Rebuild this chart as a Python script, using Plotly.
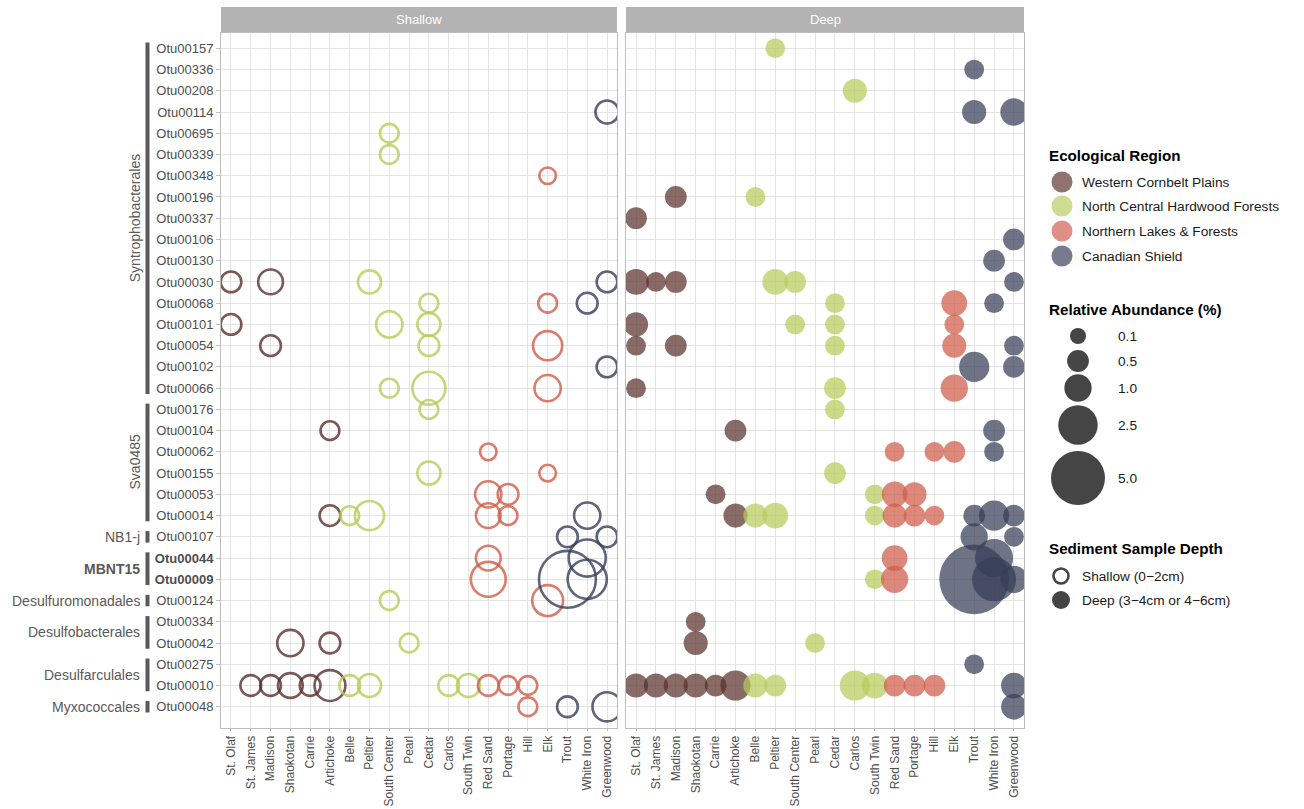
import math
import plotly.graph_objects as go

# ---------------- data ----------------
lakes = ["St. Olaf", "St. James", "Madison", "Shaokotan", "Carrie", "Artichoke",
         "Belle", "Peltier", "South Center", "Pearl", "Cedar", "Carlos", "South Twin",
         "Red Sand", "Portage", "Hill", "Elk", "Trout", "White Iron", "Greenwood"]

lake_region = ["Western Cornbelt Plains", "Western Cornbelt Plains", "Western Cornbelt Plains",
               "Western Cornbelt Plains", "Western Cornbelt Plains", "Western Cornbelt Plains",
               "North Central Hardwood Forests", "North Central Hardwood Forests",
               "North Central Hardwood Forests", "North Central Hardwood Forests",
               "North Central Hardwood Forests", "North Central Hardwood Forests",
               "North Central Hardwood Forests",
               "Northern Lakes & Forests", "Northern Lakes & Forests",
               "Northern Lakes & Forests", "Northern Lakes & Forests",
               "Canadian Shield", "Canadian Shield", "Canadian Shield"]

regions = ["Western Cornbelt Plains", "North Central Hardwood Forests",
           "Northern Lakes & Forests", "Canadian Shield"]

otus = ["Otu00157", "Otu00336", "Otu00208", "Otu00114", "Otu00695", "Otu00339", "Otu00348",
        "Otu00196", "Otu00337", "Otu00106", "Otu00130", "Otu00030", "Otu00068", "Otu00101",
        "Otu00054", "Otu00102", "Otu00066", "Otu00176", "Otu00104", "Otu00062", "Otu00155",
        "Otu00053", "Otu00014", "Otu00107", "Otu00044", "Otu00009", "Otu00124", "Otu00334",
        "Otu00042", "Otu00275", "Otu00010", "Otu00048"]
bold_otus = ["Otu00044", "Otu00009"]

# order groups: (label, first otu, last otu, rotated, bold)
orders = [("Syntrophobacterales", "Otu00157", "Otu00066", True, False),
          ("Sva0485", "Otu00176", "Otu00014", True, False),
          ("NB1-j", "Otu00107", "Otu00107", False, False),
          ("MBNT15", "Otu00044", "Otu00009", False, True),
          ("Desulfuromonadales", "Otu00124", "Otu00124", False, False),
          ("Desulfobacterales", "Otu00334", "Otu00042", False, False),
          ("Desulfarculales", "Otu00275", "Otu00010", False, False),
          ("Myxococcales", "Otu00048", "Otu00048", False, False)]

# relative abundance (%) in shallow (0-2cm) samples: (otu, lake, value)
shallow = [
    ("Otu00114", "Greenwood", 0.7),
    ("Otu00695", "South Center", 0.35),
    ("Otu00339", "South Center", 0.35),
    ("Otu00348", "Elk", 0.2),
    ("Otu00030", "St. Olaf", 0.5), ("Otu00030", "Madison", 0.85),
    ("Otu00030", "Peltier", 0.7), ("Otu00030", "Greenwood", 0.5),
    ("Otu00068", "Cedar", 0.35), ("Otu00068", "Elk", 0.35), ("Otu00068", "White Iron", 0.5),
    ("Otu00101", "St. Olaf", 0.5), ("Otu00101", "South Center", 1.0), ("Otu00101", "Cedar", 0.7),
    ("Otu00054", "Madison", 0.5), ("Otu00054", "Cedar", 0.5), ("Otu00054", "Elk", 1.3),
    ("Otu00102", "Greenwood", 0.5),
    ("Otu00066", "South Center", 0.35), ("Otu00066", "Cedar", 1.75), ("Otu00066", "Elk", 1.0),
    ("Otu00176", "Cedar", 0.35),
    ("Otu00104", "Artichoke", 0.35),
    ("Otu00062", "Red Sand", 0.2),
    ("Otu00155", "Cedar", 0.7), ("Otu00155", "Elk", 0.2),
    ("Otu00053", "Red Sand", 1.0), ("Otu00053", "Portage", 0.5),
    ("Otu00014", "Artichoke", 0.5), ("Otu00014", "Belle", 0.35), ("Otu00014", "Peltier", 1.3),
    ("Otu00014", "Red Sand", 0.85), ("Otu00014", "Portage", 0.35), ("Otu00014", "White Iron", 1.0),
    ("Otu00107", "Trout", 0.5), ("Otu00107", "Greenwood", 0.5),
    ("Otu00044", "Red Sand", 0.85), ("Otu00044", "White Iron", 2.3),
    ("Otu00009", "Red Sand", 2.0), ("Otu00009", "Trout", 5.8), ("Otu00009", "White Iron", 2.6),
    ("Otu00124", "South Center", 0.35), ("Otu00124", "Elk", 1.5),
    ("Otu00042", "Shaokotan", 1.0), ("Otu00042", "Artichoke", 0.5), ("Otu00042", "Pearl", 0.35),
    ("Otu00010", "St. James", 0.5), ("Otu00010", "Madison", 0.5), ("Otu00010", "Shaokotan", 0.85),
    ("Otu00010", "Carrie", 0.5), ("Otu00010", "Artichoke", 1.5), ("Otu00010", "Belle", 0.5),
    ("Otu00010", "Peltier", 0.7), ("Otu00010", "Carlos", 0.5), ("Otu00010", "South Twin", 0.7),
    ("Otu00010", "Red Sand", 0.5), ("Otu00010", "Portage", 0.35), ("Otu00010", "Hill", 0.35),
    ("Otu00048", "Hill", 0.35), ("Otu00048", "Trout", 0.5), ("Otu00048", "Greenwood", 1.3),
]

# relative abundance (%) in deep (3-4cm or 4-6cm) samples
deep = [
    ("Otu00157", "Peltier", 0.35),
    ("Otu00336", "Trout", 0.35),
    ("Otu00208", "Carlos", 0.7),
    ("Otu00114", "Trout", 0.7), ("Otu00114", "Greenwood", 1.0),
    ("Otu00196", "Madison", 0.5), ("Otu00196", "Belle", 0.35),
    ("Otu00337", "St. Olaf", 0.5),
    ("Otu00106", "Greenwood", 0.5),
    ("Otu00130", "White Iron", 0.5),
    ("Otu00030", "St. Olaf", 0.85), ("Otu00030", "St. James", 0.35), ("Otu00030", "Madison", 0.5),
    ("Otu00030", "Peltier", 0.85), ("Otu00030", "South Center", 0.5), ("Otu00030", "Greenwood", 0.35),
    ("Otu00068", "Cedar", 0.35), ("Otu00068", "Elk", 0.85), ("Otu00068", "White Iron", 0.35),
    ("Otu00101", "St. Olaf", 0.7), ("Otu00101", "South Center", 0.35), ("Otu00101", "Cedar", 0.35),
    ("Otu00101", "Elk", 0.35),
    ("Otu00054", "St. Olaf", 0.35), ("Otu00054", "Madison", 0.5), ("Otu00054", "Cedar", 0.35),
    ("Otu00054", "Elk", 0.7), ("Otu00054", "Greenwood", 0.35),
    ("Otu00102", "Trout", 1.3), ("Otu00102", "Greenwood", 0.5),
    ("Otu00066", "St. Olaf", 0.35), ("Otu00066", "Cedar", 0.5), ("Otu00066", "Elk", 1.0),
    ("Otu00176", "Cedar", 0.35),
    ("Otu00104", "Artichoke", 0.5), ("Otu00104", "White Iron", 0.5),
    ("Otu00062", "Red Sand", 0.35), ("Otu00062", "Hill", 0.35), ("Otu00062", "Elk", 0.5),
    ("Otu00062", "White Iron", 0.35),
    ("Otu00155", "Cedar", 0.5),
    ("Otu00053", "Carrie", 0.35), ("Otu00053", "South Twin", 0.35), ("Otu00053", "Red Sand", 0.85),
    ("Otu00053", "Portage", 0.7),
    ("Otu00014", "Artichoke", 0.7), ("Otu00014", "Belle", 0.7), ("Otu00014", "Peltier", 0.85),
    ("Otu00014", "South Twin", 0.35), ("Otu00014", "Red Sand", 0.7), ("Otu00014", "Portage", 0.5),
    ("Otu00014", "Hill", 0.35), ("Otu00014", "Trout", 0.5), ("Otu00014", "White Iron", 1.3),
    ("Otu00014", "Greenwood", 0.5),
    ("Otu00107", "Trout", 1.0), ("Otu00107", "Greenwood", 0.35),
    ("Otu00044", "Red Sand", 0.85), ("Otu00044", "White Iron", 2.3),
    ("Otu00009", "South Twin", 0.35), ("Otu00009", "Red Sand", 1.0), ("Otu00009", "Trout", 8.6),
    ("Otu00009", "White Iron", 3.2), ("Otu00009", "Greenwood", 1.0),
    ("Otu00334", "Shaokotan", 0.35),
    ("Otu00042", "Shaokotan", 0.7), ("Otu00042", "Pearl", 0.35),
    ("Otu00275", "Trout", 0.35),
    ("Otu00010", "St. Olaf", 0.7), ("Otu00010", "St. James", 0.7), ("Otu00010", "Madison", 0.7),
    ("Otu00010", "Shaokotan", 0.7), ("Otu00010", "Carrie", 0.5), ("Otu00010", "Artichoke", 1.3),
    ("Otu00010", "Belle", 0.7), ("Otu00010", "Peltier", 0.5), ("Otu00010", "Carlos", 1.3),
    ("Otu00010", "South Twin", 0.85), ("Otu00010", "Red Sand", 0.5), ("Otu00010", "Portage", 0.5),
    ("Otu00010", "Hill", 0.5), ("Otu00010", "Greenwood", 0.85),
    ("Otu00048", "Greenwood", 0.85),
]

size_breaks = [0.1, 0.5, 1.0, 2.5, 5.0]
size_labels = ["0.1", "0.5", "1.0", "2.5", "5.0"]
depth_labels = ["Shallow (0\u22122cm)", "Deep (3\u22124cm or 4\u22126cm)"]

# ---------------- styles ----------------
W, H = 1304, 809
colors = {"Western Cornbelt Plains": "#5a302c",
          "North Central Hardwood Forests": "#b6cc5c",
          "Northern Lakes & Forests": "#cf5c4a",
          "Canadian Shield": "#363d58"}
FONT = "Liberation Sans, Arial, Helvetica, sans-serif"
TXT = "#4d4d4d"
GRID = "#e4e4e4"
BORDER = "#bdbdbd"
LEGTXT = "#1a1a1a"


def dia(v):
    # ggplot-like area scaling: area linear in value between range limits
    return math.sqrt(202 + 543 * v)


def px(x):
    return x / W


def py(y):
    return 1 - y / H


fig = go.Figure()

panels = [("x", "y", shallow, "circle-open"), ("x2", "y2", deep, "circle")]
region_of = dict(zip(lakes, lake_region))
for xa, ya, recs, sym in panels:
    for reg in regions:
        pts = [r for r in recs if region_of[r[1]] == reg]
        if not pts:
            continue
        if sym == "circle-open":
            marker = dict(symbol="circle-open", size=[dia(p[2]) - 1 for p in pts],
                          color=colors[reg], opacity=0.8, line=dict(width=2.6, color=colors[reg]))
        else:
            marker = dict(symbol="circle", size=[dia(p[2]) for p in pts],
                          color=colors[reg], opacity=0.72, line=dict(width=0))
        fig.add_trace(go.Scatter(x=[p[1] for p in pts], y=[p[0] for p in pts],
                                 mode="markers", marker=marker, xaxis=xa, yaxis=ya,
                                 name=reg, showlegend=False,
                                 hovertemplate="%{y} / %{x}<extra></extra>"))

# legend drawn in pixel-space overlay axis
reg_y = [182, 206, 231, 256]
for reg, yy in zip(regions, reg_y):
    fig.add_trace(go.Scatter(x=[1062], y=[yy], mode="markers", xaxis="x3", yaxis="y3",
                             marker=dict(size=21, color=colors[reg], opacity=0.68),
                             showlegend=False, hoverinfo="skip"))
    fig.add_annotation(x=1080, y=yy, xref="x3", yref="y3", text=reg, showarrow=False,
                       xanchor="left", yanchor="middle",
                       font=dict(size=13.7, color=LEGTXT, family=FONT))
size_y = [336, 361, 388, 425, 478]
fig.add_trace(go.Scatter(x=[1078] * len(size_breaks), y=size_y, mode="markers",
                         xaxis="x3", yaxis="y3",
                         marker=dict(size=[dia(v) for v in size_breaks], color="#454545",
                                     opacity=1, line=dict(width=0)),
                         showlegend=False, hoverinfo="skip"))
for lab, yy in zip(size_labels, size_y):
    fig.add_annotation(x=1116, y=yy, xref="x3", yref="y3", text=lab, showarrow=False,
                       xanchor="left", yanchor="middle",
                       font=dict(size=13.7, color=LEGTXT, family=FONT))
fig.add_trace(go.Scatter(x=[1061], y=[576], mode="markers", xaxis="x3", yaxis="y3",
                         marker=dict(symbol="circle-open", size=15, color="#454545", opacity=1,
                                     line=dict(width=2.6, color="#454545")),
                         showlegend=False, hoverinfo="skip"))
fig.add_trace(go.Scatter(x=[1061], y=[600], mode="markers", xaxis="x3", yaxis="y3",
                         marker=dict(symbol="circle", size=18, color="#454545", opacity=1),
                         showlegend=False, hoverinfo="skip"))
for lab, yy in zip(depth_labels, [576, 600]):
    fig.add_annotation(x=1080, y=yy, xref="x3", yref="y3", text=lab, showarrow=False,
                       xanchor="left", yanchor="middle",
                       font=dict(size=13.7, color=LEGTXT, family=FONT))
for title, yy in [("Ecological Region", 155), ("Relative Abundance (%)", 309),
                  ("Sediment Sample Depth", 548)]:
    fig.add_annotation(x=1047, y=yy, xref="x3", yref="y3", text="<b>" + title + "</b>",
                       showarrow=False, xanchor="left", yanchor="middle",
                       font=dict(size=15.2, color="#000000", family=FONT))

# ---------------- axes ----------------
y_dom = [py(728), py(33)]
xs_dom = [px(221), px(617)]
xd_dom = [px(626), px(1024)]
xrange = [-0.505, len(lakes) - 1 + 0.505]
yrange = [len(otus) - 1 + 1.0, -0.72]

common_x = dict(type="category", categoryorder="array", categoryarray=lakes, range=xrange,
                showgrid=True, gridcolor=GRID, gridwidth=1, zeroline=False,
                showline=True, linecolor=BORDER, linewidth=1, mirror=True,
                ticks="outside", ticklen=2, tickcolor=BORDER, tickangle=-90,
                automargin=False,
                tickfont=dict(size=12, color=TXT, family=FONT), fixedrange=True)
ticktext = ["<b>%s</b>" % o if o in bold_otus else o for o in otus]
common_y = dict(type="category", categoryorder="array", categoryarray=otus, range=yrange,
                showgrid=True, gridcolor=GRID, gridwidth=1, zeroline=False,
                showline=True, linecolor=BORDER, linewidth=1, mirror=True,
                ticks="outside", ticklen=4, tickcolor=BORDER, automargin=False,
                tickvals=otus, ticktext=ticktext,
                tickfont=dict(size=13, color=TXT, family=FONT), fixedrange=True)

fig.update_layout(
    width=W, height=H, autosize=False,
    margin=dict(l=0, r=0, t=0, b=0, autoexpand=False),
    paper_bgcolor="white", plot_bgcolor="white",
    font=dict(family=FONT, color=TXT),
    xaxis=dict(domain=xs_dom, anchor="y", **common_x),
    xaxis2=dict(domain=xd_dom, anchor="y2", **common_x),
    yaxis=dict(domain=y_dom, anchor="x", **common_y),
    yaxis2=dict(domain=y_dom, anchor="x2", showticklabels=False,
                **{k: v for k, v in common_y.items() if k not in ("tickvals", "ticktext", "tickfont")}),
    xaxis3=dict(domain=[px(1030), 1], range=[1030, W], visible=False, fixedrange=True,
                automargin=False),
    yaxis3=dict(domain=[0, 1], range=[H, 0], visible=False, fixedrange=True, anchor="x3",
                automargin=False),
    showlegend=False,
)
fig.update_layout(yaxis2=dict(ticks=""))

# ---------------- strips ----------------
shapes = []
for dom, lab in [(xs_dom, "Shallow"), (xd_dom, "Deep")]:
    shapes.append(dict(type="rect", xref="paper", yref="paper", x0=dom[0], x1=dom[1],
                       y0=py(32.5), y1=py(7), fillcolor="#b3b3b3", line=dict(width=0),
                       layer="below"))
    fig.add_annotation(x=(dom[0] + dom[1]) / 2, y=py(19.5), xref="paper", yref="paper",
                       text=lab, showarrow=False, xanchor="center", yanchor="middle",
                       font=dict(size=13, color="white", family=FONT))

# ---------------- order annotations ----------------
for name, first, last, rot, bold in orders:
    i0, i1 = otus.index(first), otus.index(last)
    shapes.append(dict(type="line", xref="paper", yref="y", x0=px(147.5), x1=px(147.5),
                       y0=i0 - 0.27, y1=i1 + 0.27, line=dict(color="#595959", width=4)))
    txt = "<b>%s</b>" % name if bold else name
    if rot:
        fig.add_annotation(x=px(135), y=(i0 + i1) / 2, xref="paper", yref="y", text=txt,
                           textangle=-90, showarrow=False, xanchor="center", yanchor="middle",
                           font=dict(size=14, color="#595959", family=FONT))
    else:
        fig.add_annotation(x=px(142), y=(i0 + i1) / 2, xref="paper", yref="y", text=txt,
                           showarrow=False, xanchor="right", yanchor="middle",
                           font=dict(size=14, color="#595959", family=FONT))
fig.update_layout(shapes=shapes)

fig.write_html("out.html")
